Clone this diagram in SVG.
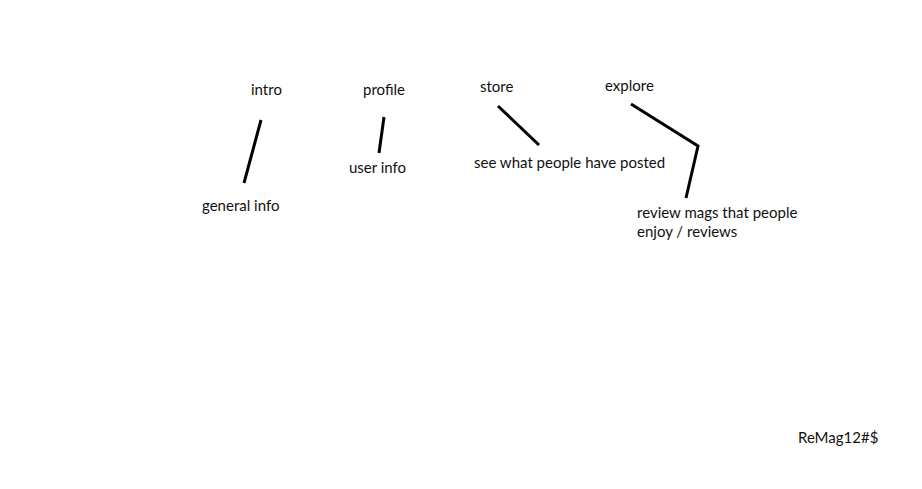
<svg xmlns="http://www.w3.org/2000/svg" width="922" height="489" viewBox="0 0 922 489">
<style>
text{font-family:Lato,"Open Sans",sans-serif;font-size:15px;fill:#111}
.c{fill:none;stroke:#000;stroke-width:3;stroke-linejoin:miter}
</style>
<rect width="922" height="489" fill="#fff"/>
<g id="connectors">
<line class="c" x1="261" y1="120" x2="244" y2="183"/>
<line class="c" x1="384" y1="117" x2="379" y2="153"/>
<line class="c" x1="498" y1="106" x2="539" y2="145"/>
<polyline class="c" points="631,104 698,146 686,198"/>
</g>
<g id="intro"><text x="251" y="95">intro</text></g>
<g id="profile"><text x="363" y="95">profile</text></g>
<g id="store"><text x="480" y="92">store</text></g>
<g id="explore"><text x="605" y="91">explore</text></g>
<g id="general-info"><text x="202" y="211">general info</text></g>
<g id="user-info"><text x="349" y="173">user info</text></g>
<g id="posted"><text x="474" y="168">see what people have posted</text></g>
<g id="reviews"><text x="637" y="218">review mags that people</text><text x="637" y="237">enjoy / reviews</text></g>
<g id="password"><text x="798" y="443">ReMag12#$</text></g>
</svg>
